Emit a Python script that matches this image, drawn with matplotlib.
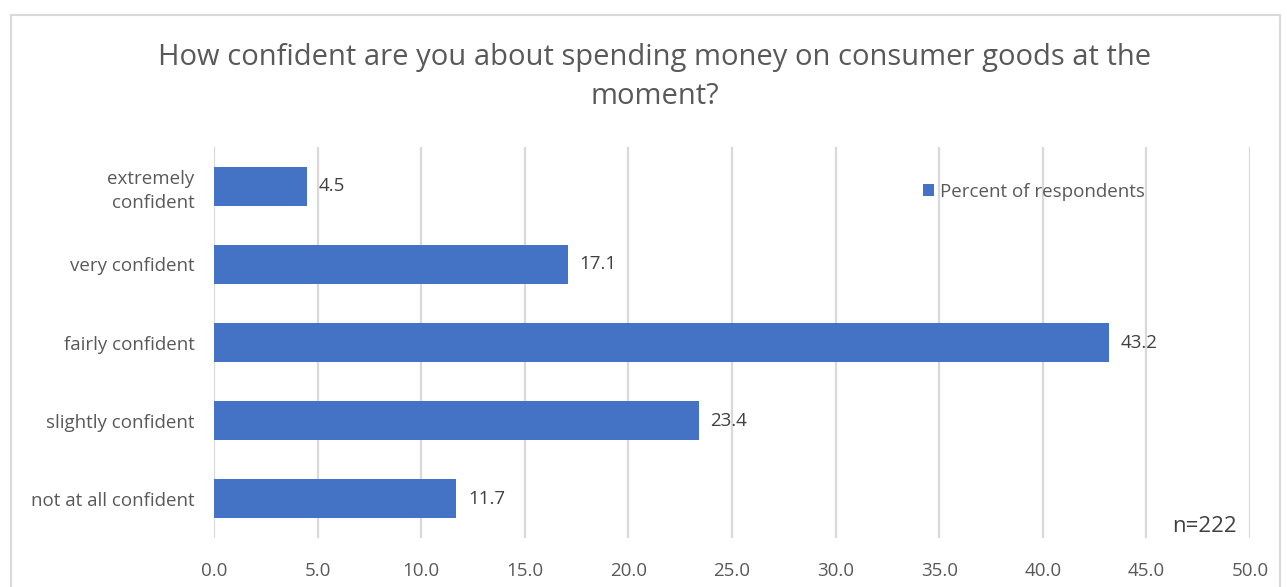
import matplotlib.pyplot as plt
from matplotlib.patches import Rectangle

# Daten
categories = ["not at all confident", "slightly confident", "fairly confident",
              "very confident", "extremely\nconfident"]
percent = [11.7, 23.4, 43.2, 17.1, 4.5]
xticks = [0, 5, 10, 15, 20, 25, 30, 35, 40, 45, 50]
title = "How confident are you about spending money on consumer goods at the\nmoment?"
series_name = "Percent of respondents"
note = "n=222"

plt.rcParams['font.family'] = ['Open Sans', 'DejaVu Sans']
fs = 13.5

fig = plt.figure(figsize=(12.87, 5.87), dpi=100)
ax = fig.add_axes([214 / 1287, 1 - 538 / 587, (1250 - 214) / 1287, (538 - 147) / 587])

# Rahmen um das Diagramm
fig.patches.append(Rectangle((11 / 1287, -0.05), (1280 - 11) / 1287, 1 - 15 / 587 + 0.05,
                             transform=fig.transFigure, fill=False,
                             edgecolor='#d9d9d9', linewidth=1.5))

bars = ax.barh(range(len(categories)), percent, height=0.5, color='#4472c4',
               label=series_name, zorder=3)
for b, v in zip(bars, percent):
    ax.text(v + 0.55, b.get_y() + b.get_height() / 2, f"{v:.1f}", va='center',
            ha='left', fontsize=fs, color='#404040')

ax.set_xlim(0, 50)
ax.set_ylim(-0.5, len(categories) - 0.5)
ax.set_xticks(xticks)
ax.set_xticklabels([f"{t:.1f}" for t in xticks], fontsize=fs, color='#595959')
ax.set_yticks(range(len(categories)))
ax.set_yticklabels(categories, fontsize=fs, color='#595959', linespacing=1.45)
ax.tick_params(length=0)
ax.tick_params(axis='y', pad=14)
ax.tick_params(axis='x', pad=17)
ax.xaxis.grid(True, color='#d9d9d9', linewidth=1.6, zorder=0)
for s in ax.spines.values():
    s.set_visible(False)

fig.text(655 / 1287, 1 - 77 / 587, title, ha='center', va='center', fontsize=21,
         color='#595959', linespacing=1.45)

leg = ax.legend(loc='center left', bbox_to_anchor=(0.668, 0.885), frameon=False,
                fontsize=fs, handlelength=0.6, handleheight=0.6, handletextpad=0.3)
for t in leg.get_texts():
    t.set_color('#595959')

fig.text(1204 / 1287, 1 - 527 / 587, note, ha='center', va='center', fontsize=16,
         color='#404040')

fig.savefig('out.png', dpi=100)
